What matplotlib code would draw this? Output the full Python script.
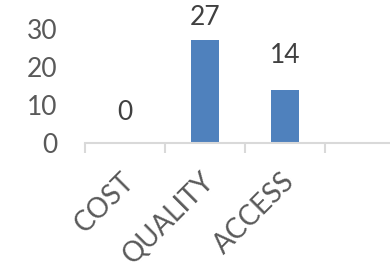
import matplotlib.pyplot as plt
import matplotlib.transforms as mtransforms

categories = ['COST', 'QUALITY', 'ACCESS', '']
values = [0, 27, 14, None]
label_pad = [13, 7.5, 15.5]  # points above bar top, as in the picture

plt.rcParams['font.family'] = ['Lato', 'DejaVu Sans']

fig = plt.figure(figsize=(3.9, 2.62), dpi=100)
ax = fig.add_axes([85 / 390, 1 - 143 / 262, 320 / 390, (143 - 28.6) / 262])

xs = list(range(len(categories)))
bar_x = [x for x, v in zip(xs, values) if v is not None]
bar_v = [v for v in values if v is not None]
ax.bar(bar_x, bar_v, width=0.35, color='#4F81BD', zorder=2)

for x, v, p in zip(bar_x, bar_v, label_pad):
    ax.annotate(str(v), (x, v), xytext=(0, p), textcoords='offset points',
                ha='center', va='bottom', fontsize=19, color='#404040')

ax.set_xlim(-0.5, len(categories) - 0.5)
ax.set_ylim(0, 30)
ax.set_yticks([0, 10, 20, 30])
ax.tick_params(axis='y', length=0, pad=20, labelsize=19, labelcolor='#595959')

ax.set_xticks(xs)
ax.set_xticklabels(categories, rotation=45, ha='right', va='top',
                   rotation_mode='anchor')
ax.tick_params(axis='x', which='major', length=0, pad=18, labelsize=20,
               labelcolor='#595959')
# nudge the rotated labels a bit to the left
shift = mtransforms.ScaledTranslation(-4 / 100, 0, fig.dpi_scale_trans)
for lab in ax.get_xticklabels():
    lab.set_transform(lab.get_transform() + shift)
ax.set_xticks([x - 0.5 for x in xs], minor=True)
ax.tick_params(axis='x', which='minor', length=7, width=1.5, color='#D9D9D9')

for s in ['top', 'right', 'left']:
    ax.spines[s].set_visible(False)
ax.spines['bottom'].set_color('#D9D9D9')
ax.spines['bottom'].set_linewidth(1.5)

fig.savefig('out.png', dpi=100)
